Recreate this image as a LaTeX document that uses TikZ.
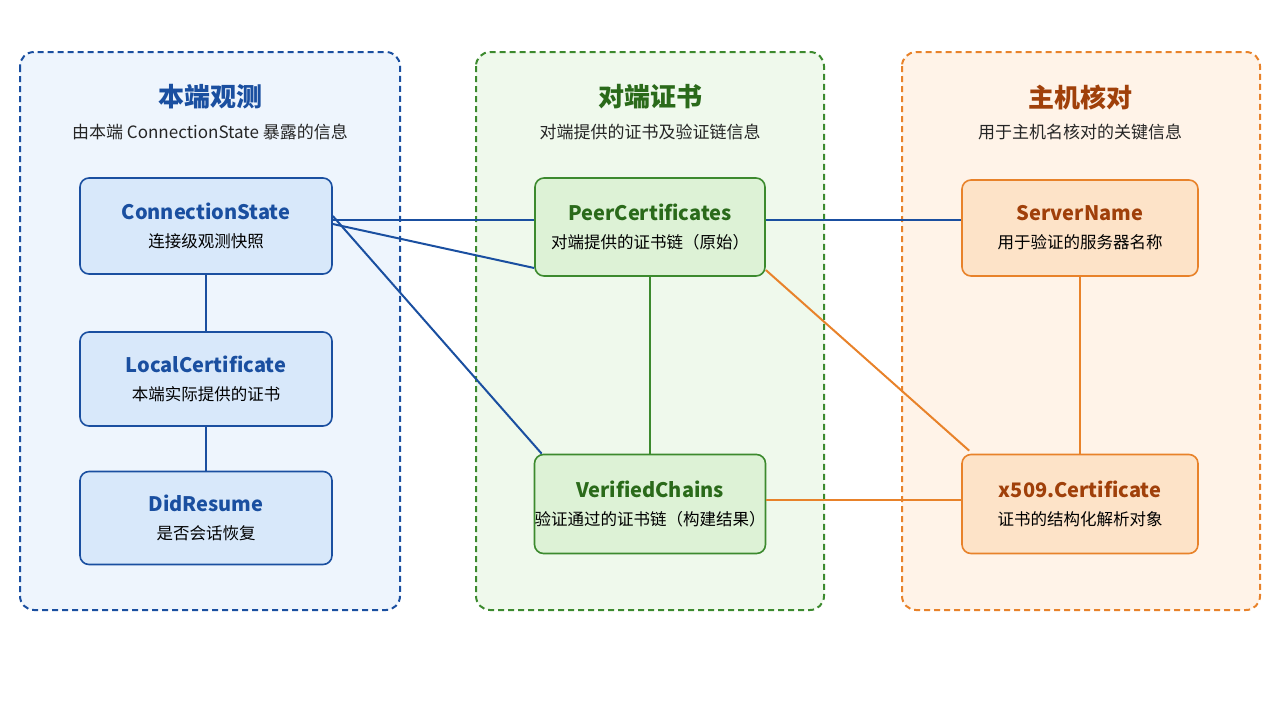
\documentclass[tikz,border=0pt]{standalone}
\usepackage{fontspec}
\setmainfont{Noto Sans CJK SC}
\usetikzlibrary{positioning}
\definecolor{bluel}{HTML}{1A4FA0}
\definecolor{bluef}{HTML}{D8E8FA}
\definecolor{bluep}{HTML}{EEF5FD}
\definecolor{greenl}{HTML}{3C8A2E}
\definecolor{greenf}{HTML}{DDF2D6}
\definecolor{greenp}{HTML}{EFF9EC}
\definecolor{orangel}{HTML}{E8822A}
\definecolor{orangef}{HTML}{FDE3C8}
\definecolor{orangep}{HTML}{FFF3E8}
\definecolor{orangeT}{HTML}{A0400A}
\definecolor{greenT}{HTML}{2A6A1A}

\begin{document}
\begin{tikzpicture}[x=1pt,y=-1pt]
  \tikzset{panel/.style={draw, dash pattern=on 6pt off 4pt, line width=2pt, rounded corners=14pt},
    box/.style={draw, line width=1.6pt, rounded corners=9pt, minimum width=252pt, minimum height=96pt, inner xsep=0pt, align=center, font=\fontsize{16.5}{28}\selectfont},
    ptitle/.style={font=\fontsize{26}{30}\selectfont\bfseries},
    psub/.style={font=\fontsize{17}{20}\selectfont, text=black!85},
    link/.style={line width=2pt}}

  \useasboundingbox (0,0) rectangle (1280,702);

  \draw[panel, bluel, fill=bluep] (20,52) rectangle (400,610);
  \draw[panel, greenl, fill=greenp] (476,52) rectangle (824,610);
  \draw[panel, orangel, fill=orangep] (902,52) rectangle (1260,610);

  \node[ptitle, text=bluel] (t1) at (210,97) {本端观测};
  \node[psub] (s1) at (210,132) {由本端 ConnectionState 暴露的信息};
  \node[ptitle, text=greenT] (t2) at (650,97) {对端证书};
  \node[psub] (s2) at (650,132) {对端提供的证书及验证链信息};
  \node[ptitle, text=orangeT] (t3) at (1080,97) {主机核对};
  \node[psub] (s3) at (1080,132) {用于主机名核对的关键信息};

  \node[box, draw=bluel, fill=bluef] (cs) at (206,226) {\textcolor{bluel}{\fontsize{20}{26}\selectfont\bfseries ConnectionState}\\连接级观测快照};
  \node[box, draw=bluel, fill=bluef, minimum height=94pt] (lc) at (206,379) {\textcolor{bluel}{\fontsize{20}{26}\selectfont\bfseries LocalCertificate}\\本端实际提供的证书};
  \node[box, draw=bluel, fill=bluef, minimum height=93pt] (dr) at (206,518) {\textcolor{bluel}{\fontsize{20}{26}\selectfont\bfseries DidResume}\\是否会话恢复};

  \node[box, draw=greenl, fill=greenf, minimum width=230pt, minimum height=98pt] (pc) at (650,227) {\textcolor{greenT}{\fontsize{20}{26}\selectfont\bfseries PeerCertificates}\\对端提供的证书链（原始）};
  \node[box, draw=greenl, fill=greenf, minimum width=230pt, minimum height=99pt] (vc) at (650,504) {\textcolor{greenT}{\fontsize{20}{26}\selectfont\bfseries VerifiedChains}\\验证通过的证书链（构建结果）};

  \node[box, draw=orangel, fill=orangef, minimum width=236pt] (sn) at (1080,228) {\textcolor{orangeT}{\fontsize{20}{26}\selectfont\bfseries ServerName}\\用于验证的服务器名称};
  \node[box, draw=orangel, fill=orangef, minimum width=236pt, minimum height=99pt] (xc) at (1080,504) {\textcolor{orangeT}{\fontsize{20}{26}\selectfont\bfseries x509.Certificate}\\证书的结构化解析对象};

  \draw[link, bluel] (cs) -- (lc);
  \draw[link, bluel] (lc) -- (dr);
  \draw[link, bluel] (cs.east |- 0,220) -- (pc.west |- 0,220);
  \draw[link, bluel] ([yshift=2pt]cs.east) -- ([yshift=-41pt]pc.west);
  \draw[link, bluel] ([yshift=10pt]cs.east) -- ([xshift=8pt]vc.north west);
  \draw[link, bluel] (pc.east |- 0,220) -- (sn.west |- 0,220);
  \draw[link, greenl] (pc) -- (vc);
  \draw[link, orangel] ([yshift=-43pt]pc.east) -- ([xshift=8pt,yshift=3pt]xc.north west);
  \draw[link, orangel] (vc.east |- 0,500) -- (xc.west |- 0,500);
  \draw[link, orangel] (sn) -- (xc);
\end{tikzpicture}
\end{document}
